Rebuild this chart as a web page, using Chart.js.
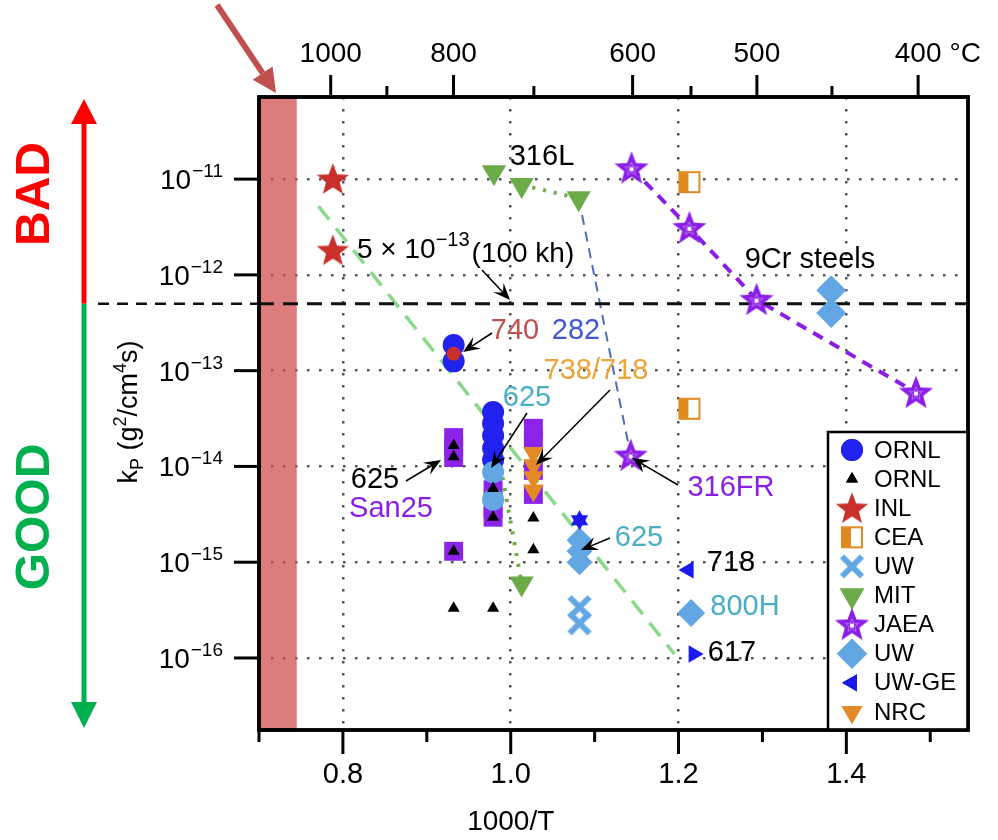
<!DOCTYPE html>
<html>
<head>
<meta charset="utf-8">
<script src="https://cdn.jsdelivr.net/npm/chart.js@4.4.0/dist/chart.umd.min.js"></script>
<style>
  body { margin: 0; background: #fff; }
  canvas { display: block; }
</style>
</head>
<body>
<canvas id="kpChart" width="998" height="840"></canvas>
<script>
// values: x = 1000/T (T in K), y = kp in g^2/cm^4 s
const ornlCircX = [0.932, 0.932, 0.979, 0.979, 0.979, 0.979, 0.979];
const ornlCircY = [1.85e-13, 1.25e-13, 3.7e-14, 2.8e-14, 2.1e-14, 1.55e-14, 1.17e-14];

const ornlTriX = [0.932, 0.932, 0.932, 0.979, 0.979, 1.027, 1.027, 0.932, 0.979];
const ornlTriY = [1.65e-14, 1.26e-14, 1.3e-15, 5.9e-15, 2.95e-15, 2.9e-15, 1.35e-15, 3.3e-16, 3.3e-16];

const inlX = [0.788, 0.788, 0.932];
const inlY = [1.0e-11, 1.8e-12, 1.5e-13];

const ceaX = [1.213, 1.213];
const ceaY = [9.3e-12, 4.0e-14];

const uwCrossX = [1.082, 1.082];
const uwCrossY = [3.4e-16, 2.3e-16];

const mitX = [0.980, 1.013, 1.081, 1.013];
const mitY = [1.18e-11, 8.7e-12, 6.3e-12, 6.0e-16];

const jaeaX = [1.144, 1.213, 1.293, 1.483, 1.143];
const jaeaY = [1.3e-11, 3.1e-12, 5.5e-13, 5.9e-14, 1.3e-14];

const uwDiaX = [0.979, 0.979, 1.082, 1.082, 1.082, 1.215, 1.382, 1.382];
const uwDiaY = [8.7e-15, 4.5e-15, 1.7e-15, 1.3e-15, 1.0e-15, 2.95e-16, 6.9e-13, 4.0e-13];

const uwgeX = [1.082, 1.082, 1.212, 1.218];
const uwgeY = [2.75e-15, 2.75e-15, 8.3e-16, 1.1e-16];

const nrcX = [1.027, 1.027, 1.027, 1.027];
const nrcY = [1.38e-14, 1.03e-14, 7.7e-15, 5.6e-15];

// purple "San25" squares (not in the legend)
const san25X = [0.932, 0.932, 0.932, 0.932, 0.979, 0.979, 0.979, 1.027, 1.027, 1.027, 1.027];
const san25Y = [2.0e-14, 1.6e-14, 1.24e-14, 1.3e-15, 5.7e-15, 3.7e-15, 2.95e-15, 2.5e-14, 1.9e-14, 9.1e-15, 5.1e-15];

// trend lines
const greenDashX = [0.771, 1.195];
const greenDashY = [5.2e-12, 1.1e-16];
const mitDotX = [1.013, 1.081];
const mitDotY = [8.7e-12, 6.3e-12];
const mitDot2X = [0.988, 1.013];
const mitDot2Y = [1.0e-14, 6.0e-16];
const blueDashX = [1.081, 1.143];
const blueDashY = [6.3e-12, 1.3e-14];
const jaeaDashX = [1.144, 1.213, 1.293, 1.483];
const jaeaDashY = [1.3e-11, 3.1e-12, 5.5e-13, 5.9e-14];
const limitX = [0.7, 1.545];
const limitY = [5e-13, 5e-13];

// axes
const xMin = 0.7, xMax = 1.545;
const yMin = 1.77e-17, yMax = 7.2e-11;
const bottomTicks = [0.7, 0.8, 0.9, 1.0, 1.1, 1.2, 1.3, 1.4, 1.5];
const bottomTickLabels = ['', '0.8', '', '1.0', '', '1.2', '', '1.4', ''];
const topTempsC = [1000, 900, 800, 700, 600, 550, 500, 450, 400];
const topTempLabels = ['1000', '', '800', '', '600', '', '500', '', '400'];
const yDecades = [1e-11, 1e-12, 1e-13, 1e-14, 1e-15, 1e-16];
const yDecadeExps = ['\u221211', '\u221212', '\u221213', '\u221214', '\u221215', '\u221216'];
const redBandEnd = 0.745;

const FONT = '"Liberation Sans", Arial, Helvetica, sans-serif';

function pts(xs, ys) {
  return xs.map((x, i) => ({ x: x, y: ys[i] }));
}

// custom marker images
function makeCanvas(size, draw) {
  const c = document.createElement('canvas');
  c.width = size; c.height = size;
  draw(c.getContext('2d'), size / 2);
  return c;
}
function starPath(g, cx, cy, R, r) {
  g.beginPath();
  for (let i = 0; i < 10; i++) {
    const a = -Math.PI / 2 + i * Math.PI / 5;
    const rad = i % 2 ? r : R;
    g.lineTo(cx + rad * Math.cos(a), cy + rad * Math.sin(a));
  }
  g.closePath();
}
const inlStar = makeCanvas(36, (g, c) => {
  starPath(g, c, c + 1, 17, 7.2);
  g.fillStyle = '#c9302b';
  g.fill();
});
const jaeaStar = makeCanvas(38, (g, c) => {
  starPath(g, c, c + 1, 18, 7.6);
  g.fillStyle = '#8b1ee6';
  g.fill();
  starPath(g, c, c + 1, 7, 3);
  g.strokeStyle = 'rgba(255,255,255,0.35)';
  g.lineWidth = 1;
  g.stroke();
  g.beginPath();
  g.arc(c, c + 1, 2.2, 0, Math.PI * 2);
  g.fillStyle = '#fff';
  g.fill();
});
const ceaSquare = makeCanvas(26, (g, c) => {
  g.fillStyle = '#fff';
  g.fillRect(3, 3, 20, 20);
  g.fillStyle = '#e08a22';
  g.fillRect(3, 3, 9, 20);
  g.strokeStyle = '#e08a22';
  g.lineWidth = 2;
  g.strokeRect(3, 3, 20, 20);
});
const uwCross = makeCanvas(30, (g, c) => {
  g.strokeStyle = '#62a7e3';
  g.lineWidth = 6;
  g.beginPath();
  g.moveTo(c - 10, c - 10); g.lineTo(c + 10, c + 10);
  g.moveTo(c + 10, c - 10); g.lineTo(c - 10, c + 10);
  g.stroke();
});

const lineDefaults = { type: 'scatter', showLine: true, pointRadius: 0, fill: false, order: 20 };

const datasets = [
  Object.assign({}, lineDefaults, { label: 'limit', data: pts(limitX, limitY), borderColor: '#111', borderWidth: 3, borderDash: [15, 9] }),
  Object.assign({}, lineDefaults, { label: 'trend', data: pts(greenDashX, greenDashY), borderColor: '#8ad98a', borderWidth: 3.5, borderDash: [17, 11] }),
  Object.assign({}, lineDefaults, { label: 'mit1', data: pts(mitDotX, mitDotY), borderColor: '#6cab48', borderWidth: 4, borderDash: [3, 8] }),
  Object.assign({}, lineDefaults, { label: 'mit2', data: pts(mitDot2X, mitDot2Y), borderColor: '#6cab48', borderWidth: 4, borderDash: [3, 8] }),
  Object.assign({}, lineDefaults, { label: 'blue', data: pts(blueDashX, blueDashY), borderColor: '#4c6fb6', borderWidth: 2, borderDash: [10, 7] }),
  Object.assign({}, lineDefaults, { label: 'jaea', data: pts(jaeaDashX, jaeaDashY), borderColor: '#8b1ee6', borderWidth: 4, borderDash: [11, 8] }),
  { label: 'San25', data: pts(san25X, san25Y), pointStyle: 'rect', pointRadius: 13.4,
    backgroundColor: '#8b24e8', borderWidth: 0, order: 9 },
  { label: 'ORNL', data: pts(ornlCircX, ornlCircY), pointStyle: 'circle', pointRadius: 11,
    backgroundColor: '#2222ee', borderWidth: 0, order: 8 },
  { label: 'NRC', data: pts(nrcX, nrcY), pointStyle: 'triangle', rotation: 180, pointRadius: 12,
    backgroundColor: '#e38a26', borderWidth: 0, order: 7 },
  { label: 'UW', data: pts(uwDiaX, uwDiaY), pointStyle: ['circle', 'circle', 'rectRot', 'rectRot', 'rectRot', 'rectRot', 'rectRot', 'rectRot'],
    pointRadius: [11, 11, 13, 13, 13, 14, 15, 15], backgroundColor: '#62a7e3', borderWidth: 0, order: 6 },
  { label: 'UW-GE', data: pts(uwgeX, uwgeY), pointStyle: 'triangle', rotation: [0, 180, -90, 90], pointRadius: 10,
    backgroundColor: '#1a1aee', borderWidth: 0, order: 5 },
  { label: 'UWx', data: pts(uwCrossX, uwCrossY), pointStyle: uwCross, pointRadius: 12, order: 5 },
  { label: 'MIT', data: pts(mitX, mitY), pointStyle: 'triangle', rotation: 180, pointRadius: 14,
    backgroundColor: '#6cab48', borderWidth: 0, order: 4 },
  { label: 'CEA', data: pts(ceaX, ceaY), pointStyle: ceaSquare, pointRadius: 12, order: 4 },
  { label: 'JAEA', data: pts(jaeaX, jaeaY), pointStyle: jaeaStar, pointRadius: 16, order: 3 },
  { label: 'INL', data: pts(inlX, inlY), pointStyle: [inlStar, inlStar, 'circle'], pointRadius: [16, 16, 7],
    backgroundColor: '#c9302b', borderWidth: 0, order: 2 },
  { label: 'ORNL2', data: pts(ornlTriX, ornlTriY), pointStyle: 'triangle', pointRadius: 7,
    backgroundColor: '#000', borderWidth: 0, order: 1 }
];

// legend entries (drawn inside the plot)
const legendItems = [
  { text: 'ORNL', style: 'circle', r: 11, color: '#2222ee' },
  { text: 'ORNL', style: 'triangle', r: 7, color: '#000' },
  { text: 'INL', style: inlStar },
  { text: 'CEA', style: ceaSquare },
  { text: 'UW', style: uwCross },
  { text: 'MIT', style: 'triangle', rot: 180, r: 14, color: '#6cab48' },
  { text: 'JAEA', style: jaeaStar },
  { text: 'UW', style: 'rectRot', r: 15, color: '#62a7e3' },
  { text: 'UW-GE', style: 'triangle', rot: -90, r: 10, color: '#1a1aee' },
  { text: 'NRC', style: 'triangle', rot: 180, r: 12, color: '#e38a26' }
];

// text annotations (pixel positions in the 998x840 picture)
const notes = [
  { t: '316L', x: 542, y: 157, c: '#000' },
  { t: '740', x: 515, y: 331, c: '#c0504d' },
  { t: '282', x: 576, y: 331, c: '#4057d6' },
  { t: '738/718', x: 596, y: 371, c: '#eba53c' },
  { t: '625', x: 527, y: 398, c: '#4bacc6' },
  { t: '625', x: 375, y: 480, c: '#000' },
  { t: 'San25', x: 391, y: 509, c: '#8b1ee6' },
  { t: '625', x: 639, y: 538, c: '#4bacc6' },
  { t: '316FR', x: 731, y: 488, c: '#8b1ee6' },
  { t: '718', x: 731, y: 563, c: '#000' },
  { t: '800H', x: 745, y: 607, c: '#4bacc6' },
  { t: '617', x: 732, y: 653, c: '#000' },
  { t: '9Cr steels', x: 810, y: 260, c: '#000' }
];
const noteArrows = [
  [482, 270, 510, 300],
  [492, 333, 463, 352],
  [610, 390, 536, 465],
  [527, 413, 491, 468],
  [406, 481, 441, 460],
  [610, 538, 581, 550],
  [678, 485, 632, 458]
];

function arrow(ctx, x1, y1, x2, y2, color, width, headLen, headW, notch) {
  const a = Math.atan2(y2 - y1, x2 - x1);
  const ca = Math.cos(a), sa = Math.sin(a);
  ctx.strokeStyle = color;
  ctx.fillStyle = color;
  ctx.lineWidth = width;
  ctx.setLineDash([]);
  ctx.beginPath();
  ctx.moveTo(x1, y1);
  ctx.lineTo(x2 - ca * headLen * notch, y2 - sa * headLen * notch);
  ctx.stroke();
  ctx.beginPath();
  ctx.moveTo(x2, y2);
  ctx.lineTo(x2 - headLen * ca + headW * sa, y2 - headLen * sa - headW * ca);
  ctx.lineTo(x2 - headLen * notch * ca, y2 - headLen * notch * sa);
  ctx.lineTo(x2 - headLen * ca - headW * sa, y2 - headLen * sa + headW * ca);
  ctx.closePath();
  ctx.fill();
}

function drawMarker(ctx, item, x, y) {
  if (typeof item.style !== 'string') {
    ctx.drawImage(item.style, x - item.style.width / 2, y - item.style.height / 2);
    return;
  }
  ctx.fillStyle = item.color;
  Chart.helpers.drawPoint(ctx, { pointStyle: item.style, rotation: item.rot || 0, radius: item.r, borderWidth: 0 }, x, y);
  ctx.fill();
}

const decorPlugin = {
  id: 'decor',
  beforeDatasetsDraw(chart) {
    const ctx = chart.ctx, a = chart.chartArea, xs = chart.scales.x;
    ctx.save();
    ctx.fillStyle = 'rgba(210, 80, 80, 0.75)';
    ctx.fillRect(a.left, a.top, xs.getPixelForValue(redBandEnd) - a.left, a.bottom - a.top);
    ctx.restore();
  },
  afterDraw(chart) {
    const ctx = chart.ctx, a = chart.chartArea;
    const xs = chart.scales.x, ys = chart.scales.y, xt = chart.scales.xTop;
    ctx.save();

    // frame
    ctx.strokeStyle = '#000';
    ctx.lineWidth = 3.5;
    ctx.setLineDash([]);
    ctx.strokeRect(a.left, a.top, a.right - a.left, a.bottom - a.top);

    // left ticks and labels
    ctx.lineWidth = 3;
    ctx.fillStyle = '#000';
    yDecades.forEach((v, i) => {
      const y = ys.getPixelForValue(v);
      ctx.beginPath();
      ctx.moveTo(a.left - 25, y);
      ctx.lineTo(a.left, y);
      ctx.stroke();
      ctx.font = '19px ' + FONT;
      ctx.textAlign = 'left';
      ctx.textBaseline = 'alphabetic';
      const supW = ctx.measureText(yDecadeExps[i]).width;
      ctx.fillText(yDecadeExps[i], 223 - supW, y - 2);
      ctx.font = '28px ' + FONT;
      ctx.textAlign = 'right';
      ctx.fillText('10', 223 - supW - 1, y + 10);
    });

    // bottom ticks
    bottomTicks.forEach((v, i) => {
      const x = xs.getPixelForValue(v);
      const len = bottomTickLabels[i] ? 24 : 12;
      ctx.beginPath();
      ctx.moveTo(x, a.bottom);
      ctx.lineTo(x, a.bottom + len);
      ctx.stroke();
    });

    // x axis title
    ctx.font = '28px ' + FONT;
    ctx.textAlign = 'center';
    ctx.textBaseline = 'middle';
    ctx.fillText('1000/T', xs.getPixelForValue(1.0), 822);

    // top ticks and labels (degrees C)
    ctx.font = '28px ' + FONT;
    ctx.textBaseline = 'alphabetic';
    xt.ticks.forEach((tk, i) => {
      const x = xt.getPixelForValue(tk.value);
      const len = topTempLabels[i] ? 22 : 11;
      ctx.beginPath();
      ctx.moveTo(x, a.top);
      ctx.lineTo(x, a.top - len);
      ctx.stroke();
      if (topTempLabels[i]) {
        ctx.textAlign = 'center';
        ctx.fillText(topTempLabels[i], x, 62);
        if (i === xt.ticks.length - 1) {
          ctx.textAlign = 'left';
          ctx.fillText('\u00b0C', x + ctx.measureText(topTempLabels[i]).width / 2 + 8, 62);
        }
      }
    });

    // y axis title
    ctx.save();
    ctx.translate(127, 412);
    ctx.rotate(-Math.PI / 2);
    const parts = [
      ['k', 27, 0], ['P', 18, 6], [' (g', 27, 0], ['2', 18, -11], ['/cm', 27, 0], ['4', 18, -11], ['s)', 27, 0]
    ];
    let total = 0;
    parts.forEach(p => { ctx.font = p[1] + 'px ' + FONT; total += ctx.measureText(p[0]).width; });
    let cx = -total / 2;
    ctx.textAlign = 'left';
    parts.forEach(p => {
      ctx.font = p[1] + 'px ' + FONT;
      ctx.fillText(p[0], cx, 10 + p[2]);
      cx += ctx.measureText(p[0]).width;
    });
    ctx.restore();

    // dashed limit line outside the frame
    const yLim = ys.getPixelForValue(limitY[0]);
    ctx.strokeStyle = '#111';
    ctx.lineWidth = 2.5;
    ctx.setLineDash([11, 8]);
    ctx.beginPath();
    ctx.moveTo(98, yLim);
    ctx.lineTo(a.left, yLim);
    ctx.stroke();
    ctx.setLineDash([]);

    // BAD / GOOD arrow
    ctx.lineWidth = 5;
    ctx.strokeStyle = '#ff0000';
    ctx.beginPath(); ctx.moveTo(84, 120); ctx.lineTo(84, yLim); ctx.stroke();
    ctx.fillStyle = '#ff0000';
    ctx.beginPath(); ctx.moveTo(84, 99); ctx.lineTo(71, 124); ctx.lineTo(97, 124); ctx.closePath(); ctx.fill();
    ctx.strokeStyle = '#00b04f';
    ctx.beginPath(); ctx.moveTo(84, yLim); ctx.lineTo(84, 705); ctx.stroke();
    ctx.fillStyle = '#00b04f';
    ctx.beginPath(); ctx.moveTo(84, 728); ctx.lineTo(71, 702); ctx.lineTo(97, 702); ctx.closePath(); ctx.fill();

    ctx.font = 'bold 48px ' + FONT;
    ctx.textAlign = 'center';
    ctx.textBaseline = 'middle';
    ctx.save();
    ctx.translate(36, 194); ctx.rotate(-Math.PI / 2);
    ctx.fillStyle = '#ff0000';
    ctx.fillText('BAD', 0, 0);
    ctx.restore();
    ctx.save();
    ctx.translate(36, 517); ctx.rotate(-Math.PI / 2);
    ctx.fillStyle = '#00b04f';
    ctx.fillText('GOOD', 0, 0);
    ctx.restore();

    // pointer arrow at the top-left corner of the band
    arrow(ctx, 217, 5, a.left + 17, a.top - 4, '#c0504d', 6, 24, 12, 1);

    // annotations
    ctx.textAlign = 'center';
    ctx.textBaseline = 'middle';
    ctx.font = '29px ' + FONT;
    notes.forEach(n => {
      ctx.fillStyle = n.c;
      ctx.fillText(n.t, n.x, n.y);
    });
    // 5 x 10^-13 (100 kh)
    ctx.textAlign = 'left';
    ctx.textBaseline = 'alphabetic';
    ctx.fillStyle = '#000';
    ctx.font = '28px ' + FONT;
    ctx.fillText('5 \u00d7 10', 357, 258);
    let w = ctx.measureText('5 \u00d7 10').width;
    ctx.font = '20px ' + FONT;
    ctx.fillText('\u221213', 357 + w, 246);
    w += ctx.measureText('\u221213').width;
    ctx.font = '28px ' + FONT;
    ctx.fillText('(100 kh)', 357 + w + 2, 262);

    noteArrows.forEach(p => arrow(ctx, p[0], p[1], p[2], p[3], '#000', 1.5, 17, 7, 0.6));

    // legend box
    const lx = 828, ly = 432;
    ctx.fillStyle = '#fff';
    ctx.fillRect(lx, ly, a.right - lx, a.bottom - ly);
    ctx.strokeStyle = '#000';
    ctx.lineWidth = 2.5;
    ctx.strokeRect(lx, ly, a.right - lx, a.bottom - ly);
    ctx.font = '24px ' + FONT;
    ctx.textAlign = 'left';
    ctx.textBaseline = 'middle';
    legendItems.forEach((it, i) => {
      const y = 450 + i * 29.1;
      drawMarker(ctx, it, 852, y);
      ctx.fillStyle = '#000';
      ctx.fillText(it.text, 874, y + 1);
    });
    // frame again over the legend edge
    ctx.lineWidth = 3.5;
    ctx.strokeRect(a.left, a.top, a.right - a.left, a.bottom - a.top);

    ctx.restore();
  }
};

const dottedGrid = (v) => v ? '#555' : 'rgba(0,0,0,0)';

new Chart(document.getElementById('kpChart'), {
  type: 'scatter',
  data: { datasets: datasets },
  options: {
    responsive: false,
    animation: false,
    events: [],
    layout: { padding: { left: 0, top: 0, right: 30, bottom: 0 } },
    plugins: { legend: { display: false }, tooltip: { enabled: false } },
    scales: {
      x: {
        type: 'linear',
        position: 'bottom',
        min: xMin,
        max: xMax,
        afterBuildTicks: (scale) => { scale.ticks = bottomTicks.map(v => ({ value: v })); },
        afterFit: (scale) => { scale.height = 110; },
        grid: {
          drawTicks: false,
          lineWidth: 2.5,
          color: (c) => dottedGrid(c.tick && bottomTickLabels[bottomTicks.indexOf(c.tick.value)])
        },
        border: { display: false, dash: [2.5, 9.5] },
        ticks: {
          padding: 28,
          color: '#000',
          font: { family: FONT, size: 29 },
          maxRotation: 0,
          autoSkip: false,
          callback: (v, i) => bottomTickLabels[i]
        }
      },
      xTop: {
        type: 'linear',
        position: 'top',
        min: xMin,
        max: xMax,
        afterBuildTicks: (scale) => { scale.ticks = topTempsC.map(t => ({ value: 1000 / (t + 273.15) })); },
        afterFit: (scale) => { scale.height = 97; },
        grid: { display: false, drawTicks: false },
        border: { display: false },
        ticks: { display: false }
      },
      y: {
        type: 'logarithmic',
        position: 'left',
        min: yMin,
        max: yMax,
        afterBuildTicks: (scale) => { scale.ticks = yDecades.map(v => ({ value: v })); },
        afterFit: (scale) => { scale.width = 259; },
        grid: { drawTicks: false, lineWidth: 2.5, color: '#555' },
        border: { display: false, dash: [2.5, 9.5] },
        ticks: { display: false }
      }
    }
  },
  plugins: [decorPlugin]
});
</script>
</body>
</html>
